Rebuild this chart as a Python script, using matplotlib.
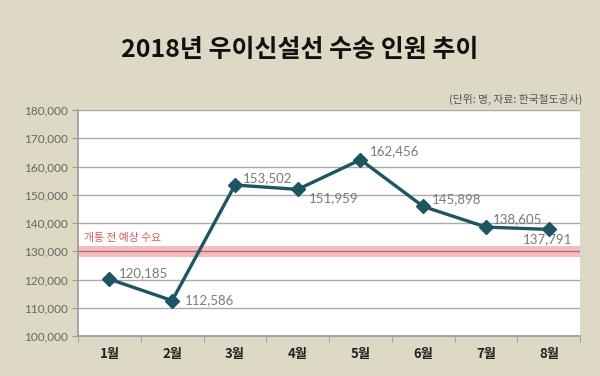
import matplotlib.pyplot as plt
from matplotlib.ticker import FuncFormatter

plt.rcParams['font.family'] = ['Noto Sans CJK KR', 'DejaVu Sans']

months = ['1월', '2월', '3월', '4월', '5월', '6월', '7월', '8월']
riders = [120185, 112586, 153502, 151959, 162456, 145898, 138605, 137791]
expected = 130000
# label offsets in points (dx, dy)
label_offsets = [(7, 4), (9, 0), (6, 5), (8, -6), (7, 6), (6, 5), (5, 6), (-19, -7)]

bg = '#ded9c5'
line_color = '#1d5562'

fig = plt.figure(figsize=(6, 3.76), dpi=100, facecolor=bg)
ax = fig.add_axes([0.13, 0.106, 0.837, 0.601])
ax.set_facecolor('white')

x = list(range(len(months)))
ax.axhspan(expected - 1900, expected + 1900, color='#f2bcc0', zorder=1, lw=0)
ax.axhline(expected, color='#b7666b', lw=0.9, zorder=2)
ax.text(0.012, expected + 4800, '개통 전 예상 수요', transform=ax.get_yaxis_transform(),
        color='#d65a62', fontsize=7.8, va='center', ha='left')

ax.plot(x, riders, color=line_color, lw=2.4, marker='D', markersize=7, zorder=4)
for xi, v, (dx, dy) in zip(x, riders, label_offsets):
    ax.annotate(f'{v:,}', (xi, v), xytext=(dx, dy), textcoords='offset points',
                fontsize=9.5, color='#7a7a7a', va='center', ha='left',
                family=['Lato', 'DejaVu Sans'])

ax.set_ylim(100000, 180000)
ax.set_xlim(-0.5, 7.5)
ax.set_yticks(range(100000, 180001, 10000))
ax.yaxis.set_major_formatter(FuncFormatter(lambda v, p: f'{int(v):,}'))
ax.grid(axis='y', color='#aaaaaa', lw=1, zorder=0)
ax.set_axisbelow(True)

ax.set_xticks(x)
ax.set_xticklabels(months, fontsize=9.5, fontweight='bold', color='#222222')
ax.set_xticks([i - 0.5 for i in range(len(months) + 1)], minor=True)
ax.tick_params(axis='x', which='major', length=0, pad=8)
ax.tick_params(axis='x', which='minor', length=4, color='#999999', direction='out')
ax.tick_params(axis='y', length=4, color='#999999', labelsize=8.5, labelcolor='#666666', pad=3)
for lbl in ax.get_yticklabels():
    lbl.set_family(['Lato', 'DejaVu Sans'])

for side in ['top', 'right']:
    ax.spines[side].set_visible(False)
for side in ['left', 'bottom']:
    ax.spines[side].set_color('#999999')
    ax.spines[side].set_linewidth(1.2)

fig.text(0.5, 0.866, '2018년 우이신설선 수송 인원 추이', ha='center', va='center',
         fontsize=18, fontweight='bold', color='#111111')
fig.text(0.97, 0.735, '(단위: 명, 자료: 한국철도공사)', ha='right', va='center',
         fontsize=7.8, color='#555555')

fig.savefig('out.png', dpi=100, facecolor=bg)
